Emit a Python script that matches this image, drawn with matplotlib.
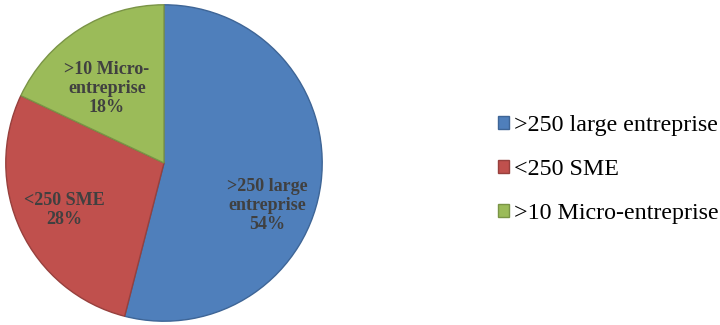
import matplotlib.pyplot as plt

categories = [">250 large entreprise", "<250 SME", ">10 Micro-entreprise"]
label_lines = [">250 large\nentreprise", "<250 SME", ">10 Micro-\nentreprise"]
shares = [54, 28, 18]
colors = ["#4F7FBB", "#C0504D", "#9BBB59"]
edges = ["#3E6596", "#97403D", "#7A9446"]

plt.rcParams["font.family"] = ["Liberation Serif", "DejaVu Serif"]

fig = plt.figure(figsize=(7.2, 3.25), dpi=100)
ax = fig.add_axes([5 / 720, 3 / 325, 318 / 720, 318 / 325])

wedges, _ = ax.pie(shares, colors=colors, startangle=90, counterclock=False,
                   wedgeprops=dict(linewidth=1.0))
for w, ec in zip(wedges, edges):
    w.set_edgecolor(ec)

# label spots inside each slice
spots = [(0.655, -0.27), (-0.63, -0.30), (-0.36, 0.47)]
for (x, y), txt, v in zip(spots, label_lines, shares):
    ax.text(x, y, f"{txt}\n{v}%", ha="center", va="center", fontsize=13,
            fontweight="bold", color="#404040", linespacing=1.15)
ax.set_xlim(-1.005, 1.005)
ax.set_ylim(-1.005, 1.005)
ax.set_aspect("equal")

fig.legend(wedges, categories, loc="center left", bbox_to_anchor=(498 / 720, 0.478),
           frameon=False, fontsize=17.3, handlelength=0.45, handleheight=0.45,
           handletextpad=0.2, labelspacing=0.96, borderpad=0, borderaxespad=0)

fig.savefig("out.png", dpi=100)
